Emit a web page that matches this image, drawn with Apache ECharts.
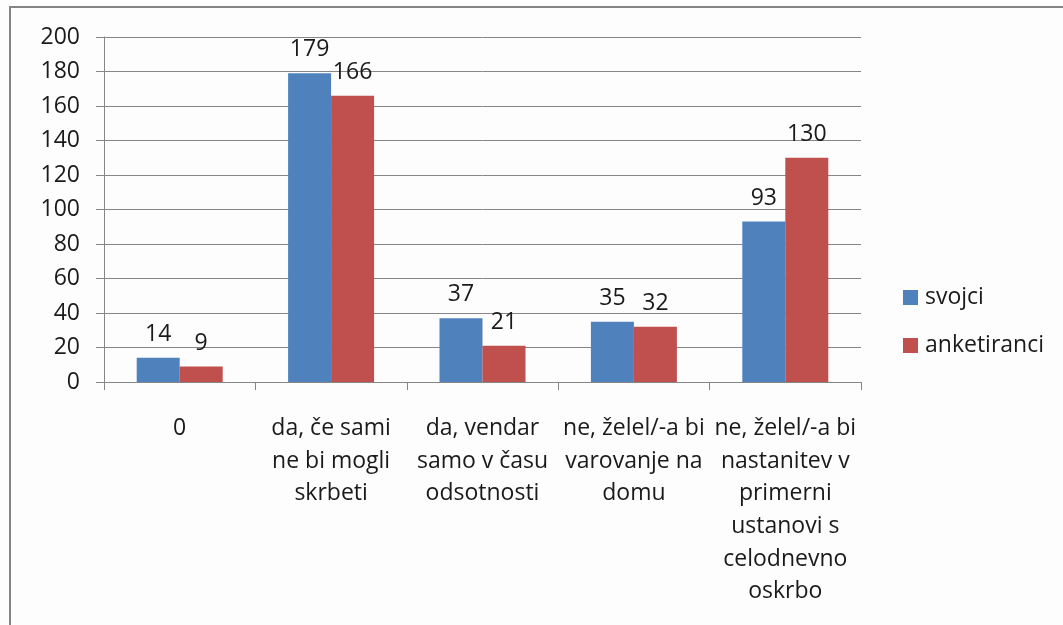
<!DOCTYPE html>
<html>
<head>
<meta charset="utf-8">
<script src="https://cdn.jsdelivr.net/npm/echarts@6/dist/echarts.min.js"></script>
<style>
  html, body { margin: 0; padding: 0; background: #fdfdfd; }
  #chart { width: 1063px; height: 625px; }
</style>
</head>
<body>
<div id="chart"></div>
<script>
// kategorije (prelomi vrstic kot na sliki)
var categories = [
  '0',
  'da, če sami\nne bi mogli\nskrbeti',
  'da, vendar\nsamo v času\nodsotnosti',
  'ne, želel/-a bi\nvarovanje na\ndomu',
  'ne, želel/-a bi\nnastanitev v\nprimerni\nustanovi s\ncelodnevno\noskrbo'
]
var svojci = [14, 179, 37, 35, 93]
var anketiranci = [9, 166, 21, 32, 130]
var seriesNames = ['svojci', 'anketiranci']
var yTicks = [0, 20, 40, 60, 80, 100, 120, 140, 160, 180, 200]

var font = '"Open Sans", "Noto Sans", sans-serif'
var fs = 23
var chart = echarts.init(document.getElementById('chart'))

chart.setOption({
  backgroundColor: '#fdfdfd',
  color: ['#4f81bd', '#c0504d'],
  textStyle: { fontFamily: font, color: '#1a1a1a' },
  graphic: [
    {
      type: 'rect',
      shape: { x: 10, y: 7, width: 1100, height: 700 },
      style: { fill: 'none', stroke: '#858585', lineWidth: 2 },
      silent: true
    }
  ],
  legend: {
    orient: 'vertical',
    left: 903,
    top: 286,
    padding: 0,
    itemWidth: 15,
    itemHeight: 15,
    itemGap: 25,
    icon: 'rect',
    textStyle: { fontSize: fs, fontFamily: font, color: '#1a1a1a', padding: [0, 0, 0, 2] },
    data: seriesNames
  },
  grid: {
    left: 104,
    right: 202,
    top: 37,
    bottom: 243,
    containLabel: false
  },
  xAxis: {
    type: 'category',
    data: categories,
    axisLine: { lineStyle: { color: '#868686', width: 1 } },
    axisTick: { show: true, length: 8, lineStyle: { color: '#868686' } },
    axisLabel: {
      interval: 0,
      margin: 30,
      fontSize: fs,
      lineHeight: 32.7,
      color: '#1a1a1a',
      fontFamily: font,
      align: 'center'
    }
  },
  yAxis: {
    type: 'value',
    min: yTicks[0],
    max: yTicks[yTicks.length - 1],
    interval: 20,
    axisLine: { show: true, lineStyle: { color: '#868686', width: 1 } },
    axisTick: { show: true, length: 8, lineStyle: { color: '#868686' } },
    splitLine: { lineStyle: { color: '#868686', width: 1 } },
    axisLabel: { fontSize: fs, margin: 24, color: '#1a1a1a', fontFamily: font }
  },
  series: [
    {
      name: seriesNames[0],
      type: 'bar',
      data: svojci,
      barWidth: 43,
      barGap: '0%',
      label: { show: true, position: 'top', distance: 12, fontSize: fs, color: '#1a1a1a', fontFamily: font }
    },
    {
      name: seriesNames[1],
      type: 'bar',
      data: anketiranci,
      barWidth: 43,
      barGap: '0%',
      label: { show: true, position: 'top', distance: 12, fontSize: fs, color: '#1a1a1a', fontFamily: font }
    }
  ]
})
</script>
</body>
</html>
